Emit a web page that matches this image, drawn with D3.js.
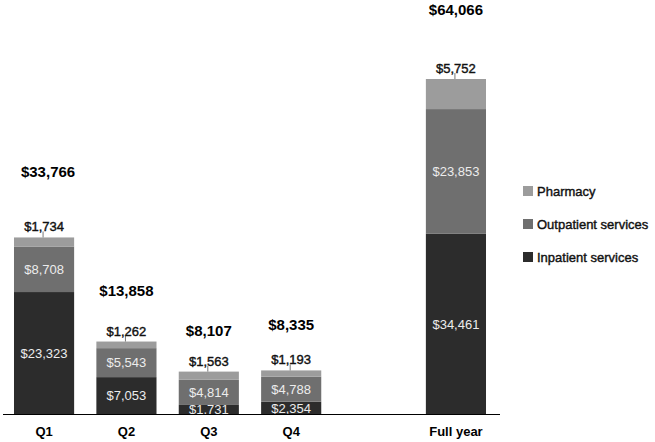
<!DOCTYPE html>
<html>
<head>
<meta charset="utf-8">
<script src="https://cdn.jsdelivr.net/npm/d3@7/dist/d3.min.js"></script>
<style>
  html, body { margin: 0; padding: 0; background: #fff; }
  svg { display: block; font-family: "Liberation Sans", Arial, sans-serif; }
</style>
</head>
<body>
<svg id="chart" width="655" height="442"></svg>
<script>
const categories = ["Q1", "Q2", "Q3", "Q4", "Full year"];
const inpatient = [23323, 7053, 1731, 2354, 34461];
const outpatient = [8708, 5543, 4814, 4788, 23853];
const pharmacy = [1734, 1262, 1563, 1193, 5752];
const totals = [33766, 13858, 8107, 8335, 64066];
const seriesNames = ["Inpatient services", "Outpatient services", "Pharmacy"];
const seriesColors = ["#2c2c2c", "#6f6f6f", "#9c9c9c"];

// layout
const baseY = 414, topY = 79;
const totalLift = [60, 46, 36, 40, 64];
const totalShift = [4, 0, 0, 0, 0];
const bandDomain = ["Q1", "Q2", "Q3", "Q4", "__gap__", "Full year"];

const svg = d3.select("#chart");
const x = d3.scaleBand().domain(bandDomain).range([3, 497]).paddingInner(0.27).paddingOuter(0.1335);
const y = d3.scaleLinear().domain([0, d3.max(totals)]).range([baseY, topY]);

const rows = categories.map((c, i) => ({
  cat: c, inpatient: inpatient[i], outpatient: outpatient[i], pharmacy: pharmacy[i], total: totals[i], idx: i
}));
const keys = ["inpatient", "outpatient", "pharmacy"];
const stack = d3.stack().keys(keys)(rows);
const fmt = v => "$" + d3.format(",")(v);

svg.append("defs").append("clipPath").attr("id", "plotclip")
  .append("rect").attr("x", 0).attr("y", 0).attr("width", 655).attr("height", baseY);

const layers = svg.append("g").selectAll("g").data(stack).join("g")
  .attr("fill", (d, i) => seriesColors[i]);
layers.selectAll("rect").data(d => d).join("rect")
  .attr("x", d => x(d.data.cat))
  .attr("width", x.bandwidth())
  .attr("y", d => y(d[1]))
  .attr("height", d => y(d[0]) - y(d[1]));

// inner labels for inpatient & outpatient
const inner = svg.append("g").attr("clip-path", "url(#plotclip)");
stack.slice(0, 2).forEach(layer => {
  inner.selectAll(null).data(layer).join("text")
    .attr("x", d => x(d.data.cat) + x.bandwidth() / 2)
    .attr("y", d => (y(d[0]) + y(d[1])) / 2)
    .attr("dy", "0.36em")
    .attr("text-anchor", "middle")
    .attr("font-size", 13)
    .attr("fill", "#ececec")
    .text(d => fmt(d[1] - d[0]));
});

// pharmacy labels with leader lines
const pLayer = stack[2];
svg.append("g").selectAll("line").data(pLayer).join("line")
  .attr("x1", d => x(d.data.cat) + x.bandwidth() / 2 - 1)
  .attr("x2", d => x(d.data.cat) + x.bandwidth() / 2 - 1)
  .attr("y1", d => y(d[1]))
  .attr("y2", d => y(d[1]) - 6)
  .attr("stroke", "#777").attr("stroke-width", 1);
svg.append("g").selectAll("text").data(pLayer).join("text")
  .attr("x", d => x(d.data.cat) + x.bandwidth() / 2)
  .attr("y", d => y(d[1]) - 6)
  .attr("text-anchor", "middle")
  .attr("font-size", 13)
  .attr("fill", "#111")
  .attr("stroke", "#111").attr("stroke-width", 0.4)
  .text(d => fmt(d.data.pharmacy));

// totals
svg.append("g").selectAll("text").data(rows).join("text")
  .attr("x", d => x(d.cat) + x.bandwidth() / 2 + totalShift[d.idx])
  .attr("y", d => y(d.total) - totalLift[d.idx])
  .attr("text-anchor", "middle")
  .attr("font-size", 15)
  .attr("font-weight", "bold")
  .attr("fill", "#000")
  .text(d => fmt(d.total));

// axis
const axis = svg.append("g").attr("transform", `translate(0,${baseY})`)
  .call(d3.axisBottom(x).tickSize(0).tickPadding(13).tickFormat(d => d === "__gap__" ? "" : d));
axis.select(".domain").attr("d", "M3,0.5H500").attr("stroke", "#000");
axis.selectAll("text").attr("font-size", 13).attr("font-weight", "bold")
  .attr("fill", "#000").attr("font-family", "Liberation Sans, Arial, sans-serif");

// legend
const legendItems = [
  { name: seriesNames[2], color: seriesColors[2] },
  { name: seriesNames[1], color: seriesColors[1] },
  { name: seriesNames[0], color: seriesColors[0] }
];
const legendY = [191, 224, 257];
const lg = svg.append("g").selectAll("g").data(legendItems).join("g")
  .attr("transform", (d, i) => `translate(523,${legendY[i]})`);
lg.append("rect").attr("x", 0).attr("y", -5).attr("width", 10).attr("height", 10)
  .attr("fill", d => d.color);
lg.append("text").attr("x", 14).attr("dy", "0.36em").attr("font-size", 13)
  .attr("fill", "#111").attr("stroke", "#111").attr("stroke-width", 0.4)
  .text(d => d.name);
</script>
</body>
</html>
